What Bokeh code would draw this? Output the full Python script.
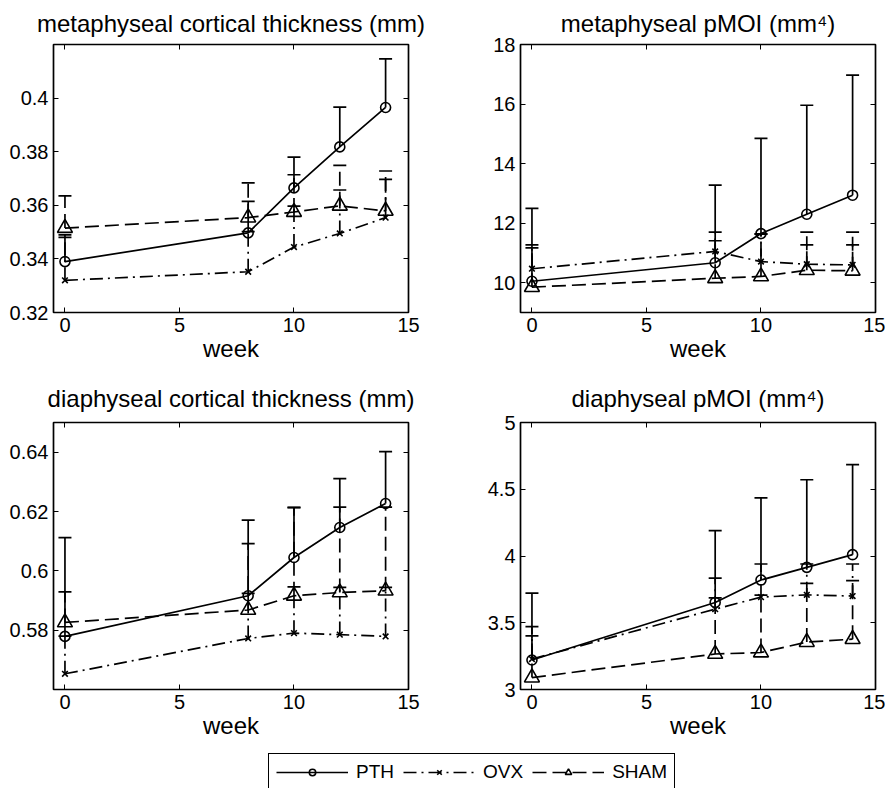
from bokeh.plotting import figure
from bokeh.models import (ColumnDataSource, Whisker, TeeHead, FixedTicker, LinearAxis,
                          Range1d, Legend, LegendItem)
from bokeh.layouts import column, row
from bokeh.embed import file_html
from bokeh.resources import INLINE

weeks = [0, 8, 10, 12, 14]
xticks = [0, 5, 10, 15]
xtick_labels = ["0", "5", "10", "15"]
series_names = ["PTH", "OVX", "SHAM"]

# metaphyseal cortical thickness (mm)
met_ct_pth = [0.3390, 0.3497, 0.3665, 0.3818, 0.3965]
met_ct_pth_err = [0.0100, 0.0118, 0.0115, 0.0148, 0.0181]
met_ct_ovx = [0.3320, 0.3352, 0.3444, 0.3495, 0.3554]
met_ct_ovx_err = [0.0160, 0.0150, 0.0153, 0.0162, 0.0143]
met_ct_sham = [0.3515, 0.3554, 0.3575, 0.3598, 0.3579]
met_ct_sham_err = [0.0120, 0.0130, 0.0139, 0.0151, 0.0149]
met_ct_yticks = [0.32, 0.34, 0.36, 0.38, 0.40]
met_ct_ylabels = ["0.32", "0.34", "0.36", "0.38", "0.4"]

# metaphyseal pMOI (mm^4)
met_pmoi_pth = [10.05, 10.67, 11.65, 12.30, 12.94]
met_pmoi_pth_err = [2.45, 2.61, 3.20, 3.66, 4.03]
met_pmoi_ovx = [10.47, 11.05, 10.71, 10.62, 10.60]
met_pmoi_ovx_err = [0.80, 0.65, 0.93, 0.65, 0.67]
met_pmoi_sham = [9.85, 10.15, 10.21, 10.42, 10.40]
met_pmoi_sham_err = [1.32, 1.26, 1.42, 1.28, 1.30]
met_pmoi_yticks = [10, 12, 14, 16, 18]
met_pmoi_ylabels = ["10", "12", "14", "16", "18"]

# diaphyseal cortical thickness (mm)
dia_ct_pth = [0.5779, 0.5916, 0.6045, 0.6146, 0.6227]
dia_ct_pth_err = [0.0333, 0.0255, 0.0168, 0.0165, 0.0175]
dia_ct_ovx = [0.5653, 0.5772, 0.5790, 0.5785, 0.5779]
dia_ct_ovx_err = [0.0127, 0.0152, 0.0156, 0.0159, 0.0165]
dia_ct_sham = [0.5826, 0.5868, 0.5916, 0.5927, 0.5933]
dia_ct_sham_err = [0.0103, 0.0224, 0.0298, 0.0288, 0.0282]
dia_ct_yticks = [0.58, 0.60, 0.62, 0.64]
dia_ct_ylabels = ["0.58", "0.6", "0.62", "0.64"]

# diaphyseal pMOI (mm^4)
dia_pmoi_pth = [3.221, 3.652, 3.820, 3.915, 4.010]
dia_pmoi_pth_err = [0.501, 0.538, 0.615, 0.656, 0.675]
dia_pmoi_ovx = [3.228, 3.602, 3.692, 3.709, 3.700]
dia_pmoi_ovx_err = [0.243, 0.233, 0.248, 0.231, 0.240]
dia_pmoi_sham = [3.089, 3.266, 3.277, 3.355, 3.377]
dia_pmoi_sham_err = [0.313, 0.421, 0.430, 0.440, 0.438]
dia_pmoi_yticks = [3, 3.5, 4, 4.5, 5]
dia_pmoi_ylabels = ["3", "3.5", "4", "4.5", "5"]

FONT = "Liberation Sans"
STYLES = {
    "PTH": dict(dash="solid", marker="circle", size=10, lsize=8),
    "OVX": dict(dash="13 5 2 5", marker="x", size=8, lsize=7),
    "SHAM": dict(dash="14 6", marker="triangle", size=15, lsize=12),
}
LW = 1.7


def style_axis(ax, ticks, labels, standoff):
    ax.ticker = FixedTicker(ticks=ticks)
    ax.major_label_overrides = dict(zip(ticks, labels))
    ax.axis_line_color = None
    ax.major_tick_in = 5
    ax.major_tick_out = 0
    ax.major_tick_line_color = "black"
    ax.major_tick_line_width = 1
    ax.minor_tick_line_color = None
    ax.major_label_text_font = FONT
    ax.major_label_text_font_size = "20px"
    ax.major_label_text_color = "black"
    ax.major_label_standoff = standoff


def blank_axis(ticks):
    return LinearAxis(ticker=FixedTicker(ticks=ticks), major_label_text_font_size="0px",
                      major_label_text_color=None, axis_line_color=None,
                      major_tick_in=5, major_tick_out=0, major_tick_line_color="black",
                      minor_tick_line_color=None, major_label_standoff=0)


def panel(title, data, yr, yticks, ylabels, w, h, left, right, top, bottom, tstand):
    p = figure(width=w, height=h, x_range=Range1d(-0.5, 15), y_range=Range1d(*yr),
               output_backend="svg", toolbar_location=None,
               min_border_left=left, min_border_right=right,
               min_border_top=top, min_border_bottom=bottom)
    p.title.text = title
    p.title.align = "center"
    p.title.text_font = FONT
    p.title.text_font_size = "24px"
    p.title.text_font_style = "normal"
    p.title.text_color = "black"
    p.title.standoff = tstand
    p.grid.visible = False
    p.outline_line_color = "black"
    p.outline_line_width = 1.7
    p.outline_line_alpha = 1
    p.background_fill_color = "white"
    p.border_fill_color = "white"

    style_axis(p.xaxis[0], xticks, xtick_labels, 5)
    style_axis(p.yaxis[0], yticks, ylabels, 5)
    p.xaxis[0].axis_label = "week"
    p.xaxis[0].axis_label_text_font = FONT
    p.xaxis[0].axis_label_text_font_size = "24px"
    p.xaxis[0].axis_label_text_font_style = "normal"
    p.xaxis[0].axis_label_text_color = "black"
    p.xaxis[0].axis_label_standoff = 0
    p.add_layout(blank_axis(xticks), "above")
    p.add_layout(blank_axis(yticks), "right")

    for name, (vals, errs) in zip(series_names, data):
        st = STYLES[name]
        src = ColumnDataSource(dict(x=weeks, y=vals, up=[v + e for v, e in zip(vals, errs)]))
        p.line("x", "y", source=src, line_color="black", line_width=LW, line_dash=st["dash"])
        p.add_layout(Whisker(source=src, base="x", lower="y", upper="up",
                             line_color="black", line_width=LW, line_dash=st["dash"],
                             upper_head=TeeHead(size=13, line_color="black", line_width=LW),
                             lower_head=None))
        p.scatter("x", "y", source=src, marker=st["marker"], size=st["size"],
                  fill_color=None, line_color="black", line_width=1.6)
    return p


p1 = panel("metaphyseal cortical thickness (mm)",
           [(met_ct_pth, met_ct_pth_err), (met_ct_ovx, met_ct_ovx_err), (met_ct_sham, met_ct_sham_err)],
           (0.32, 0.42), met_ct_yticks, met_ct_ylabels, 440, 372, 53, 32, 43, 60, 15)
p2 = panel("metaphyseal pMOI (mm\u2074)",
           [(met_pmoi_pth, met_pmoi_pth_err), (met_pmoi_ovx, met_pmoi_ovx_err), (met_pmoi_sham, met_pmoi_sham_err)],
           (9, 18), met_pmoi_yticks, met_pmoi_ylabels, 445, 372, 80, 10, 43, 60, 15)
p3 = panel("diaphyseal cortical thickness (mm)",
           [(dia_ct_pth, dia_ct_pth_err), (dia_ct_ovx, dia_ct_ovx_err), (dia_ct_sham, dia_ct_sham_err)],
           (0.56, 0.65), dia_ct_yticks, dia_ct_ylabels, 440, 378, 53, 32, 50, 61, 21)
p4 = panel("diaphyseal pMOI (mm\u2074)",
           [(dia_pmoi_pth, dia_pmoi_pth_err), (dia_pmoi_ovx, dia_pmoi_ovx_err), (dia_pmoi_sham, dia_pmoi_sham_err)],
           (3, 5), dia_pmoi_yticks, dia_pmoi_ylabels, 445, 378, 80, 10, 50, 61, 21)

# legend strip (its renderers hold a single hidden point outside the visible range)
lg = figure(width=885, height=38, x_axis_type=None, y_axis_type=None,
            x_range=Range1d(0, 1), y_range=Range1d(0, 1),
            output_backend="svg", toolbar_location=None, min_border=0)
lg.outline_line_color = None
lg.grid.visible = False
items = []
for name in series_names:
    st = STYLES[name]
    rl = lg.line(x=[-5, -4], y=[-5, -5], line_color="black", line_width=LW, line_dash=st["dash"])
    rm = lg.scatter(x=[-5], y=[-5], marker=st["marker"], size=st["lsize"], fill_color=None,
                    line_color="black", line_width=1.6)
    items.append(LegendItem(label=name, renderers=[rl, rm]))
legend = Legend(items=items, orientation="horizontal", location=(268, -3),
                glyph_width=72, glyph_height=16, label_height=16, label_standoff=8,
                spacing=9, padding=7, margin=0,
                border_line_color="black", border_line_width=1.5, border_line_alpha=1,
                background_fill_color="white", background_fill_alpha=1,
                label_text_font=FONT, label_text_font_size="19px", label_text_color="black")
lg.add_layout(legend, "center")

layout = column(row(p1, p2, spacing=0), row(p3, p4, spacing=0), lg, spacing=0)
open("out.html", "w").write(file_html(layout, INLINE))
